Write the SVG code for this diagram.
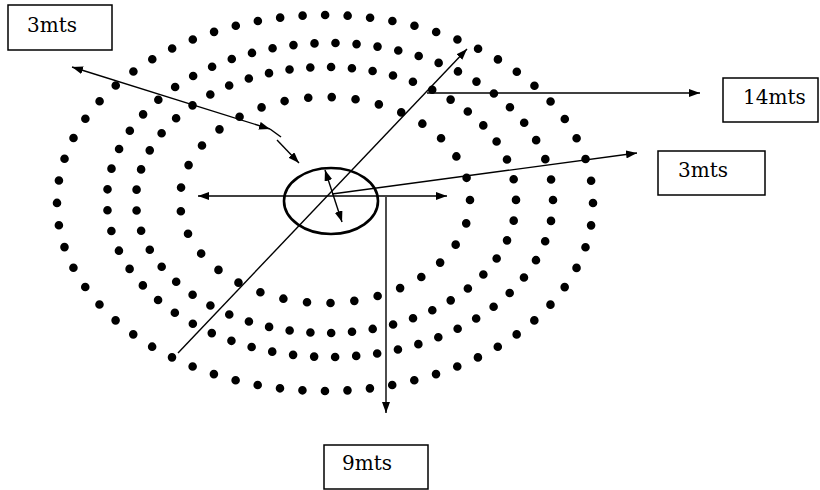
<svg xmlns="http://www.w3.org/2000/svg" width="820" height="490" viewBox="0 0 820 490">
<style>
.ring{fill:none;stroke:#000;stroke-width:8.6;stroke-linecap:round}
.ln{fill:none;stroke:#000;stroke-width:1.4}
.box{fill:#fff;stroke:#000;stroke-width:1.5}
.lbl{font-family:"DejaVu Serif","Liberation Serif",serif;font-size:20px;fill:#000}
</style>
<defs>
<marker id="ah" viewBox="0 0 11 8" refX="11" refY="4" markerWidth="11" markerHeight="8" markerUnits="userSpaceOnUse" orient="auto-start-reverse">
<path d="M0,0 L11,4 L0,8 z" fill="#000"/>
</marker>
</defs>
<g id="rings">
<ellipse class="ring" cx="325" cy="203" rx="268" ry="188" stroke-dasharray="0 22.55"/>
<ellipse class="ring" cx="330" cy="200" rx="223" ry="157" stroke-dasharray="0 21.1"/>
<ellipse class="ring" cx="326" cy="200" rx="190" ry="133" stroke-dasharray="0 20.86"/>
<ellipse class="ring" cx="325" cy="200" rx="145" ry="103" stroke-dasharray="0 23.8"/>
</g>
<g id="center">
<ellipse cx="331" cy="201" rx="47" ry="33" fill="none" stroke="#000" stroke-width="2.6"/>
</g>
<g id="connectors">
<path class="ln" d="M198,196 H447" marker-start="url(#ah)" marker-end="url(#ah)"/>
<path class="ln" d="M386,197 V413" marker-end="url(#ah)"/>
<path class="ln" d="M178,353 L467,49" marker-end="url(#ah)"/>
<path class="ln" d="M427,93 H700" marker-end="url(#ah)"/>
<path class="ln" d="M332,194 L637,153" marker-end="url(#ah)"/>
<path class="ln" d="M72,67 L270,129" marker-start="url(#ah)" marker-end="url(#ah)"/>
<path class="ln" d="M270,129 L281,137"/>
<path class="ln" d="M277,140 L299,163" marker-end="url(#ah)"/>
<path class="ln" d="M325,170 L342,222" marker-start="url(#ah)" marker-end="url(#ah)"/>
</g>
<g id="box-3mts-left">
<rect class="box" x="8" y="5" width="104" height="45"/>
<text class="lbl" x="27" y="32">3mts</text>
</g>
<g id="box-14mts">
<rect class="box" x="723" y="78" width="95" height="44"/>
<text class="lbl" x="743" y="104">14mts</text>
</g>
<g id="box-3mts-right">
<rect class="box" x="658" y="151" width="107" height="44"/>
<text class="lbl" x="678" y="177">3mts</text>
</g>
<g id="box-9mts">
<rect class="box" x="324" y="445" width="104" height="44"/>
<text class="lbl" x="342" y="470">9mts</text>
</g>
</svg>
